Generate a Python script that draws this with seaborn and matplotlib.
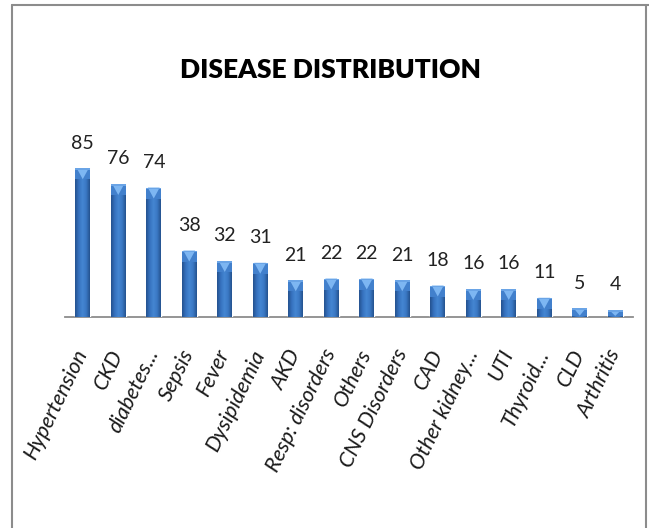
import numpy as np
import pandas as pd
import matplotlib
matplotlib.use("Agg")
import matplotlib.pyplot as plt
import seaborn as sns
from matplotlib.lines import Line2D
from matplotlib.patches import Polygon, Rectangle
from matplotlib.colors import LinearSegmentedColormap

# Patient counts per diagnosis
categories = ["Hypertension", "CKD", "diabetes...", "Sepsis", "Fever", "Dysipidemia",
              "AKD", "Resp: disorders", "Others", "CNS Disorders", "CAD",
              "Other kidney...", "UTI", "Thyroid...", "CLD", "Arthritis"]
counts = [85, 76, 74, 38, 32, 31, 21, 22, 22, 21, 18, 16, 16, 11, 5, 4]
title = "DISEASE DISTRIBUTION"

sns.set_theme(style="white")
plt.rcParams["font.family"] = ["Lato", "DejaVu Sans"]

W, H = 649, 528
fig = plt.figure(figsize=(W / 100, H / 100), dpi=100)
fig.patch.set_facecolor("white")

# plot area in pixel terms: baseline at y=317, spans x 65..633
ax = fig.add_axes([65 / W, (H - 317) / H, (633 - 65) / W, (317 - 120) / H])
df = pd.DataFrame({"disease": categories, "patients": counts})
sns.barplot(data=df, x="disease", y="patients", color="#3a76c2", width=0.42,
            saturation=1, ax=ax)

ymax = 197 / 1.75
px = ymax / 197.0  # data units per pixel

# shaded cylinder look: dark edges, lighter middle, bright bevelled cap
shade = LinearSegmentedColormap.from_list(
    "bar_shade", ["#24528f", "#3672bf", "#4586d2", "#3a78c4", "#24528f"])
grad = np.linspace(0, 1, 64)[None, :]
for patch in ax.patches:
    x0 = patch.get_x()
    w = patch.get_width()
    h = patch.get_height()
    im = ax.imshow(grad, cmap=shade, extent=(x0, x0 + w, 0, h), aspect="auto",
                   zorder=patch.get_zorder() + 0.1, interpolation="bilinear")
    im.set_clip_path(patch)
    cap = min(11 * px, h * 0.85)
    ax.add_patch(Rectangle((x0, h - cap), w, cap, facecolor="#4280cc",
                           edgecolor="none", zorder=patch.get_zorder() + 0.2))
    ax.add_patch(Polygon([(x0 + w * 0.1, h), (x0 + w * 0.9, h), (x0 + w / 2, h - cap)],
                         closed=True, facecolor="#7db6f2", edgecolor="none",
                         zorder=patch.get_zorder() + 0.3))
    ax.add_patch(Rectangle((x0, h - 1.5 * px), w, 1.5 * px, facecolor="#6aa4e6",
                           edgecolor="none", zorder=patch.get_zorder() + 0.4))

ax.set_xlim(-0.5, len(categories) - 0.5)
ax.set_ylim(0, ymax)

ax.bar_label(ax.containers[0], labels=[str(v) for v in counts], padding=12,
             fontsize=14, color="#222222")

for side in ("left", "top", "right"):
    ax.spines[side].set_visible(False)
ax.spines["bottom"].set_color("#8c8c8c")
ax.spines["bottom"].set_linewidth(1.3)
ax.spines["bottom"].set_zorder(0.5)
ax.set_yticks([])
ax.set_xlabel("")
ax.set_ylabel("")
ax.tick_params(axis="x", length=0, pad=24)
for lbl in ax.get_xticklabels():
    lbl.set_rotation(64)
    lbl.set_ha("right")
    lbl.set_va("center")
    lbl.set_rotation_mode("anchor")
    lbl.set_fontstyle("italic")
    lbl.set_fontsize(15.5)
    lbl.set_color("#1a1a1a")

fig.text(330 / W, 1 - 70 / H, title, ha="center", va="center", fontsize=19,
         fontweight="heavy", color="black")

# outer frame
frame = dict(transform=fig.transFigure, color="#8c8c8c", lw=1.5)
fig.add_artist(Line2D([12 / W, 12 / W], [0, 1 - 5 / H], **frame))
fig.add_artist(Line2D([12 / W, 1], [1 - 5 / H, 1 - 5 / H], **frame))
fig.add_artist(Line2D([646 / W, 646 / W], [0, 1 - 5 / H], **frame))

fig.savefig("out.png", dpi=100)
